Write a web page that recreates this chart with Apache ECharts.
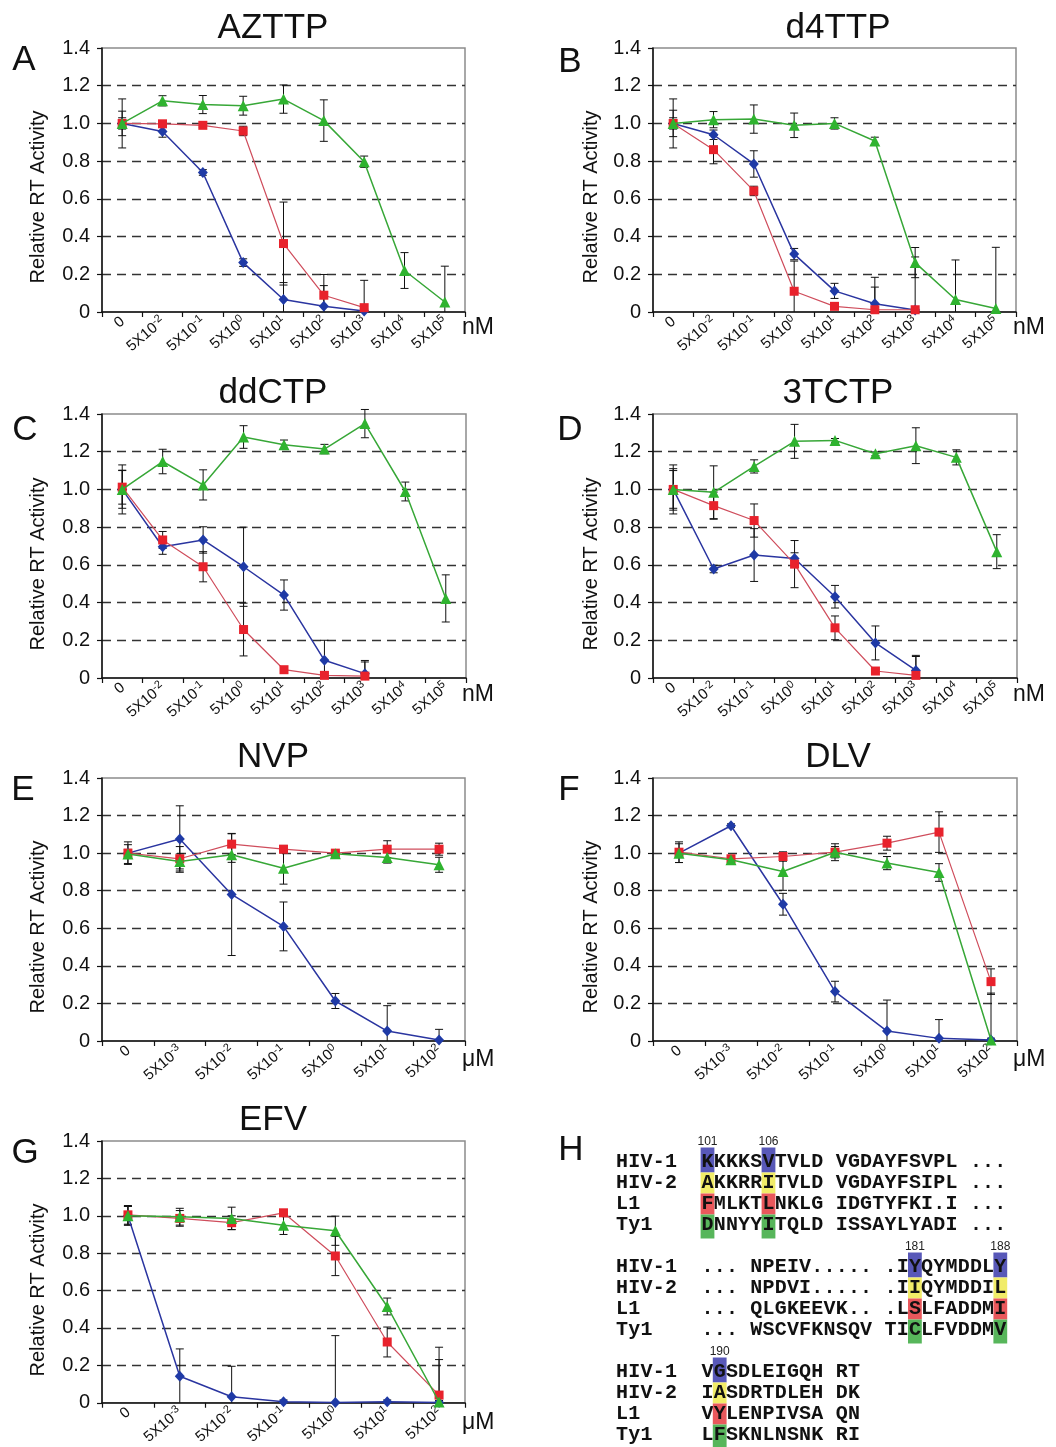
<!DOCTYPE html>
<html><head><meta charset="utf-8">
<script src="https://cdn.jsdelivr.net/npm/echarts/dist/echarts.min.js"></script>
<style>html,body{margin:0;padding:0;background:#fff}#c{width:1056px;height:1447px}</style>
</head><body><div id="c"></div>
<script>
// ---------- DATA ----------
const catsNM = ['0','5X10^-2','5X10^-1','5X10^0','5X10^1','5X10^2','5X10^3','5X10^4','5X10^5'];
const catsUM = ['0','5X10^-3','5X10^-2','5X10^-1','5X10^0','5X10^1','5X10^2'];
const panelTitles = ['AZTTP','d4TTP','ddCTP','3TCTP','NVP','DLV','EFV'];
const panelLetters = ['A','B','C','D','E','F','G','H'];
const panelUnits = ['nM','nM','nM','nM','\u03bcM','\u03bcM','\u03bcM'];
const yTicks = [0,0.2,0.4,0.6,0.8,1.0,1.2,1.4];
const yName = 'Relative RT Activity';

// A: AZTTP
const aztBlue = [1.0,0.957,0.74,0.262,0.066,0.03,0.005,null,null];
const aztBlueErr = [0.065,0.03,0.015,0.02,0.09,0.11,0.01,null,null];
const aztRed = [1.0,0.998,0.99,0.96,0.363,0.089,0.023,null,null];
const aztRedErr = [0.03,0.01,0.01,0.025,0.22,0.11,0.145,null,null];
const aztGreen = [1.0,1.12,1.1,1.094,1.129,1.015,0.797,0.22,0.053];
const aztGreenErr = [0.13,0.027,0.048,0.05,0.075,0.11,0.03,0.095,0.19];
// B: d4TTP
const d4tBlue = [1.0,0.94,0.785,0.307,0.112,0.044,0.01,null,null];
const d4tBlueErr = [0.07,0.025,0.07,0.03,0.04,0.14,0.01,null,null];
const d4tRed = [1.0,0.861,0.642,0.11,0.03,0.012,0.012,null,null];
const d4tRedErr = [0.03,0.075,0.025,0.16,0.01,0.12,0.28,null,null];
const d4tGreen = [1.0,1.02,1.023,0.99,1.0,0.907,0.262,0.066,0.018];
const d4tGreenErr = [0.13,0.043,0.075,0.065,0.03,0.02,0.08,0.21,0.325];
// C: ddCTP
const ddcBlue = [1.0,0.696,0.732,0.59,0.44,0.094,0.023,null,null];
const ddcBlueErr = [0.1,0.04,0.07,0.21,0.08,0.106,0.07,null,null];
const ddcRed = [1.012,0.732,0.59,0.257,0.044,0.014,0.01,null,null];
const ddcRedErr = [0.09,0.045,0.08,0.14,0.01,0.01,0.075,null,null];
const ddcGreen = [1.0,1.148,1.024,1.278,1.237,1.214,1.349,0.989,0.422];
const ddcGreenErr = [0.13,0.065,0.08,0.06,0.025,0.025,0.075,0.05,0.125];
// D: 3TCTP
const tcBlue = [1.0,0.578,0.652,0.634,0.431,0.186,0.04,null,null];
const tcBlueErr = [0.1,0.02,0.14,0.03,0.06,0.09,0.08,null,null];
const tcRed = [1.0,0.914,0.835,0.604,0.266,0.037,0.014,null,null];
const tcRedErr = [0.13,0.072,0.088,0.125,0.063,0.01,0.1,null,null];
const tcGreen = [1.0,0.985,1.122,1.255,1.26,1.189,1.232,1.17,0.67];
const tcGreenErr = [0.11,0.14,0.035,0.09,0.01,0.01,0.095,0.04,0.09];
// E: NVP
const nvpBlue = [1.0,1.075,0.78,0.61,0.213,0.053,0.005];
const nvpBlueErr = [0.02,0.177,0.325,0.13,0.04,0.135,0.057];
const nvpRed = [1.0,0.97,1.048,1.021,1.0,1.021,1.021];
const nvpRedErr = [0.06,0.065,0.055,0.02,0.01,0.045,0.032];
const nvpGreen = [0.995,0.956,0.991,0.92,0.997,0.977,0.938];
const nvpGreenErr = [0.05,0.04,0.04,0.085,0.01,0.03,0.04];
// F: DLV
const dlvBlue = [1.0,1.146,0.728,0.263,0.053,0.014,0.005];
const dlvBlueErr = [0.02,0.01,0.058,0.055,0.165,0.1,0.01];
const dlvRed = [1.005,0.97,0.982,1.005,1.053,1.112,0.316];
const dlvRedErr = [0.055,0.01,0.025,0.03,0.037,0.108,0.068];
const dlvGreen = [1.0,0.965,0.902,1.005,0.947,0.897,0.005];
const dlvGreenErr = [0.05,0.01,0.1,0.045,0.035,0.047,0.25];
// G: EFV
const efvBlue = [1.0,0.142,0.032,0.005,0.002,0.005,0.002];
const efvBlueErr = [0.05,0.146,0.163,0.01,0.357,0.01,0.01];
const efvRed = [1.005,0.986,0.963,1.016,0.785,0.325,0.041];
const efvRedErr = [0.05,0.042,0.037,0.01,0.105,0.08,0.256];
const efvGreen = [1.0,0.995,0.986,0.95,0.92,0.515,0.004];
const efvGreenErr = [0.05,0.045,0.06,0.05,0.078,0.045,0.227];

// H: alignment
const seqNames = ['HIV-1','HIV-2','L1','Ty1'];
const seqBlock1 = ['KKKKSVTVLD VGDAYFSVPL ...','AKKRRITVLD VGDAYFSIPL ...','FMLKTLNKLG IDGTYFKI.I ...','DNNYYITQLD ISSAYLYADI ...'];
const seqBlock2 = ['... NPEIV..... .IYQYMDDLY','... NPDVI..... .IIQYMDDIL','... QLGKEEVK.. .LSLFADDMI','... WSCVFKNSQV TICLFVDDMV'];
const seqBlock3 = ['VGSDLEIGQH RT','IASDRTDLEH DK','VYLENPIVSA QN','LFSKNLNSNK RI'];
const highlightCols = [[0,5],[17,24],[1]];
const positionLabels = [['101','106'],['181','188'],['190']];

// ---------- LAYOUT / STYLE ----------
const FF = '"Liberation Sans", Arial, Helvetica, sans-serif';
const MONO = '"Liberation Mono", "Courier New", monospace';
const gridLayout = [
  {left:102, top:48, width:363, height:264},
  {left:653, top:48, width:363, height:264},
  {left:102, top:414, width:364, height:264},
  {left:653, top:414, width:364, height:264},
  {left:102, top:778, width:363, height:263},
  {left:653, top:778, width:364, height:263},
  {left:102, top:1141, width:363, height:262}
];
const titlePos = [[273,28],[838,28],[273,393],[838,393],[273,757],[838,757],[273,1120]];
const letterPos = [[24,60],[570,62],[25,430],[570,430],[23,790],[569,790],[25,1153],[571,1150]];
const unitPos = [[462,328],[1013,328],[462,695],[1013,695],[462,1060],[1013,1060],[462,1423]];
const yNamePos = [[38,197],[591,197],[38,564],[591,564],[38,927],[591,927],[38,1290]];
const seqStyle = [
  {symbol:'diamond', size:[10,11], marker:'#1f3aa6', line:'#2a35a0', lw:1.5, z:4},
  {symbol:'rect', size:9, marker:'#e8222c', line:'#cf4d5c', lw:1.2, z:5},
  {symbol:'triangle', size:11, marker:'#2fb32f', line:'#37a737', lw:1.5, z:6}
];
const hiColors = ['#5858b8','#f1ec68','#e9585c','#57b65b'];

const panels = [
  {cats:catsNM, vals:[aztBlue,aztRed,aztGreen], errs:[aztBlueErr,aztRedErr,aztGreenErr]},
  {cats:catsNM, vals:[d4tBlue,d4tRed,d4tGreen], errs:[d4tBlueErr,d4tRedErr,d4tGreenErr]},
  {cats:catsNM, vals:[ddcBlue,ddcRed,ddcGreen], errs:[ddcBlueErr,ddcRedErr,ddcGreenErr]},
  {cats:catsNM, vals:[tcBlue,tcRed,tcGreen], errs:[tcBlueErr,tcRedErr,tcGreenErr]},
  {cats:catsUM, vals:[nvpBlue,nvpRed,nvpGreen], errs:[nvpBlueErr,nvpRedErr,nvpGreenErr]},
  {cats:catsUM, vals:[dlvBlue,dlvRed,dlvGreen], errs:[dlvBlueErr,dlvRedErr,dlvGreenErr]},
  {cats:catsUM, vals:[efvBlue,efvRed,efvGreen], errs:[efvBlueErr,efvRedErr,efvGreenErr]}
];

function fmtCat(v){
  const k = v.indexOf('^');
  if (k < 0) return '{b|' + v + '}';
  return '{b|' + v.slice(0,k) + '}{s|' + v.slice(k+1) + '}';
}
const richCat = {
  b:{fontSize:15, fontFamily:FF, color:'#111', lineHeight:17, verticalAlign:'bottom'},
  s:{fontSize:11, fontFamily:FF, color:'#111', lineHeight:17, verticalAlign:'top'}
};

function renderErr(params, api){
  const x = api.value(0), v = api.value(1), e = api.value(2);
  let lo = v - e; const hi = v + e;
  const clipped = lo < 0; if (clipped) lo = 0;
  const pLo = api.coord([x, lo]), pHi = api.coord([x, hi]);
  const hw = 4, st = {stroke:'#111', lineWidth:1};
  const ch = [
    {type:'line', shape:{x1:pLo[0],y1:pLo[1],x2:pHi[0],y2:pHi[1]}, style:st},
    {type:'line', shape:{x1:pHi[0]-hw,y1:pHi[1],x2:pHi[0]+hw,y2:pHi[1]}, style:st}
  ];
  if (!clipped) ch.push({type:'line', shape:{x1:pLo[0]-hw,y1:pLo[1],x2:pLo[0]+hw,y2:pLo[1]}, style:st});
  return {type:'group', children:ch};
}

const option = {animation:false, backgroundColor:'#ffffff', grid:[], xAxis:[], yAxis:[], series:[], graphic:[]};

panels.forEach((p, i) => {
  const L = gridLayout[i];
  option.grid.push({left:L.left, top:L.top, width:L.width, height:L.height, show:true,
    borderColor:'#8c8c8c', borderWidth:1.5, backgroundColor:'transparent'});
  option.xAxis.push({type:'category', gridIndex:i, data:p.cats, boundaryGap:true,
    axisLine:{lineStyle:{color:'#111', width:1.5}},
    axisTick:{show:true, length:5, interval:0, lineStyle:{color:'#111', width:1.2}},
    axisLabel:{interval:0, rotate:40, margin:7, formatter:fmtCat, rich:richCat, color:'#111'},
    splitLine:{show:false}});
  option.yAxis.push({type:'value', gridIndex:i, min:yTicks[0], max:yTicks[yTicks.length-1], interval:0.2,
    axisLine:{show:true, lineStyle:{color:'#111', width:1.5}},
    axisTick:{show:true, length:5, lineStyle:{color:'#111', width:1.2}},
    axisLabel:{fontSize:20, color:'#111', margin:12, fontFamily:FF,
      formatter:v => v === 0 ? '0' : v.toFixed(1)},
    splitLine:{show:true, showMinLine:false, showMaxLine:false,
      lineStyle:{color:'#333', width:1.4, type:[9,6]}}});
  // error bars
  p.vals.forEach((vals, s) => {
    const d = [];
    vals.forEach((v, k) => { if (v != null && p.errs[s][k] != null) d.push([k, v, p.errs[s][k]]); });
    option.series.push({type:'custom', xAxisIndex:i, yAxisIndex:i, data:d, renderItem:renderErr, z:2, silent:true});
  });
  // lines
  p.vals.forEach((vals, s) => {
    const S = seqStyle[s];
    option.series.push({type:'line', xAxisIndex:i, yAxisIndex:i, data:vals, symbol:S.symbol, symbolSize:S.size,
      connectNulls:false, z:S.z, clip:false,
      itemStyle:{color:S.marker, borderWidth:0},
      lineStyle:{color:S.line, width:S.lw}});
  });
  option.graphic.push({type:'text', x:titlePos[i][0], y:titlePos[i][1],
    style:{text:panelTitles[i], font:'35px ' + FF, fill:'#111', textAlign:'center', textVerticalAlign:'middle', align:'center', verticalAlign:'middle'}});
  option.graphic.push({type:'text', x:unitPos[i][0], y:unitPos[i][1],
    style:{text:panelUnits[i], font:'23px ' + FF, fill:'#111', textAlign:'left', textVerticalAlign:'middle', align:'left', verticalAlign:'middle'}});
  option.graphic.push({type:'text', x:yNamePos[i][0], y:yNamePos[i][1], rotation:Math.PI / 2,
    style:{text:yName, font:'20px ' + FF, fill:'#111', textAlign:'center', textVerticalAlign:'middle', align:'center', verticalAlign:'middle'}});
});
panelLetters.forEach((t, i) => {
  option.graphic.push({type:'text', x:letterPos[i][0], y:letterPos[i][1],
    style:{text:t, font:'35px ' + FF, fill:'#111', textAlign:'center', textVerticalAlign:'middle', align:'center', verticalAlign:'middle'}});
});

// ---------- Panel H (alignment drawn as cells on a hidden grid) ----------
const hIdx = panels.length;
option.grid.push({left:616, top:1130.5, width:402.6, height:315, show:false});
option.xAxis.push({type:'value', gridIndex:hIdx, min:0, max:33, show:false});
option.yAxis.push({type:'value', gridIndex:hIdx, min:-1.5, max:13.5, inverse:true, show:false});
const seqOffset = 7;
const cells = [];
const numLabels = [];
[seqBlock1, seqBlock2, seqBlock3].forEach((block, b) => {
  const r0 = b * 5;
  block.forEach((str, r) => {
    const row = r0 + r;
    const nm = seqNames[r];
    for (let c = 0; c < nm.length; c++) cells.push({col:c, row:row, ch:nm[c], hi:-1});
    for (let c = 0; c < str.length; c++) {
      if (str[c] === ' ') continue;
      const isHi = highlightCols[b].indexOf(c) >= 0;
      cells.push({col:seqOffset + c, row:row, ch:str[c], hi:isHi ? r : -1, first:r === 0, last:r === block.length - 1});
    }
  });
  highlightCols[b].forEach((c, j) => numLabels.push({col:seqOffset + c, row:r0 - 0.97, t:positionLabels[b][j]}));
});
option.series.push({type:'custom', xAxisIndex:hIdx, yAxisIndex:hIdx, silent:true, z:3,
  data:cells.map((c, k) => [c.col + 0.5, c.row, k]),
  renderItem:function(params, api){
    const c = cells[params.dataIndex];
    const p = api.coord([c.col + 0.5, c.row]);
    const p0 = api.coord([c.col, c.row - 0.5]);
    const p1 = api.coord([c.col + 1, c.row + 0.5]);
    const ch = [];
    if (c.hi >= 0) {
      let y0 = p0[1], y1 = p1[1];
      if (c.first) y0 -= 4;
      if (c.last) y1 += 3;
      ch.push({type:'rect', shape:{x:p0[0] - 0.8, y:y0, width:(p1[0] - p0[0]) + 1.6, height:y1 - y0}, style:{fill:hiColors[c.hi]}});
    }
    ch.push({type:'text', style:{text:c.ch, x:p[0], y:p[1], font:'bold 20px ' + MONO, fill:'#111',
      textAlign:'center', textVerticalAlign:'middle', align:'center', verticalAlign:'middle'}});
    return {type:'group', children:ch};
  }});
option.series.push({type:'custom', xAxisIndex:hIdx, yAxisIndex:hIdx, silent:true, z:3,
  data:numLabels.map((n, k) => [n.col + 0.5, n.row, k]),
  renderItem:function(params, api){
    const n = numLabels[params.dataIndex];
    const p = api.coord([n.col + 0.5, n.row]);
    return {type:'text', style:{text:n.t, x:p[0], y:p[1], font:'12px ' + FF, fill:'#222',
      textAlign:'center', textVerticalAlign:'middle', align:'center', verticalAlign:'middle'}};
  }});

const chart = echarts.init(document.getElementById('c'), null, {renderer:'canvas', width:1056, height:1447});
chart.setOption(option);
</script>
</body></html>
